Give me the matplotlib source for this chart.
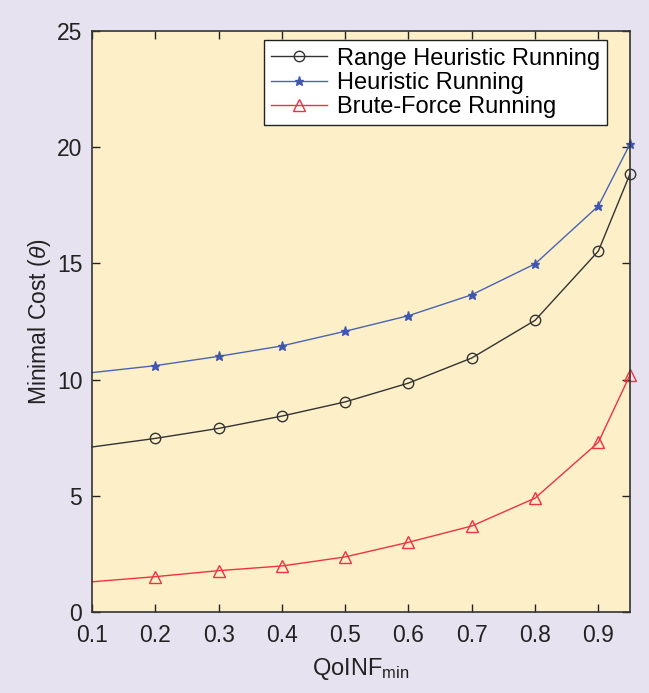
import numpy as np
import matplotlib
matplotlib.use("Agg")
import matplotlib.pyplot as plt

plt.rcParams['font.family'] = ['Liberation Sans', 'DejaVu Sans']
plt.rcParams['mathtext.fontset'] = 'custom'
plt.rcParams['mathtext.rm'] = 'Liberation Sans'
plt.rcParams['mathtext.it'] = 'Liberation Sans:italic'

# data
qoinf = [0.1, 0.2, 0.3, 0.4, 0.5, 0.6, 0.7, 0.8, 0.9, 0.95]
range_heuristic = [7.1, 7.47, 7.9, 8.43, 9.04, 9.85, 10.93, 12.55, 15.53, 18.85]
heuristic = [10.3, 10.6, 11.0, 11.45, 12.08, 12.75, 13.65, 14.98, 17.47, 20.14]
brute_force = [1.3, 1.52, 1.78, 1.98, 2.37, 3.0, 3.7, 4.9, 7.3, 10.2]
xticks = [0.1, 0.2, 0.3, 0.4, 0.5, 0.6, 0.7, 0.8, 0.9]
yticks = [0, 5, 10, 15, 20, 25]

fig = plt.figure(figsize=(6.49, 6.93), dpi=100, facecolor='#e7e2ef')
ax = fig.add_axes([92 / 649, 1 - 612 / 693, (630 - 92) / 649, (612 - 31) / 693])
ax.set_facecolor('#fdf0c9')

marks = slice(1, None)
ax.plot(qoinf, range_heuristic, color='#333333', lw=1.0, marker='o', ms=7.5,
        mfc='none', mec='#333333', mew=1.0, markevery=marks, clip_on=False,
        label='Range Heuristic Running')
ax.plot(qoinf, heuristic, color='#4a63b3', lw=1.0, marker='*', ms=6.5,
        mfc='#3f57b0', mec='#3f57b0', markevery=marks, clip_on=False,
        label='Heuristic Running')
ax.plot(qoinf, brute_force, color='#ee3340', lw=1.0, marker='^', ms=9,
        mfc='none', mec='#ee3340', mew=1.0, markevery=marks, clip_on=False,
        label='Brute-Force Running')

ax.set_xlim(0.1, 0.95)
ax.set_ylim(0, 25)
ax.set_xticks(xticks)
ax.set_yticks(yticks)
ax.set_xticklabels([f'{t:.1f}' for t in xticks])
ax.tick_params(direction='in', top=True, right=True, length=6, width=1,
               labelsize=16.5, colors='#222222')
ax.tick_params(axis='x', pad=9)
ax.tick_params(axis='y', pad=7)
for s in ax.spines.values():
    s.set_color('#333333')
    s.set_linewidth(1.2)

ax.set_xlabel(r'QoINF$_{\mathrm{min}}$', fontsize=17, color='#222222', labelpad=6)
ax.set_ylabel(r'Minimal Cost ($\theta$)', fontsize=16.5, color='#222222', labelpad=3)

leg = ax.legend(loc='upper right', fontsize=17, frameon=True, fancybox=False,
                handlelength=2.4, handletextpad=0.4, borderpad=0.3,
                labelspacing=0.1, borderaxespad=0.4,
                bbox_to_anchor=(0.975, 1.0))
leg.get_frame().set_edgecolor('#222222')
leg.get_frame().set_linewidth(1.0)
leg.get_frame().set_facecolor('white')
leg.get_frame().set_alpha(1.0)

fig.savefig('out.png', dpi=100, facecolor=fig.get_facecolor())
